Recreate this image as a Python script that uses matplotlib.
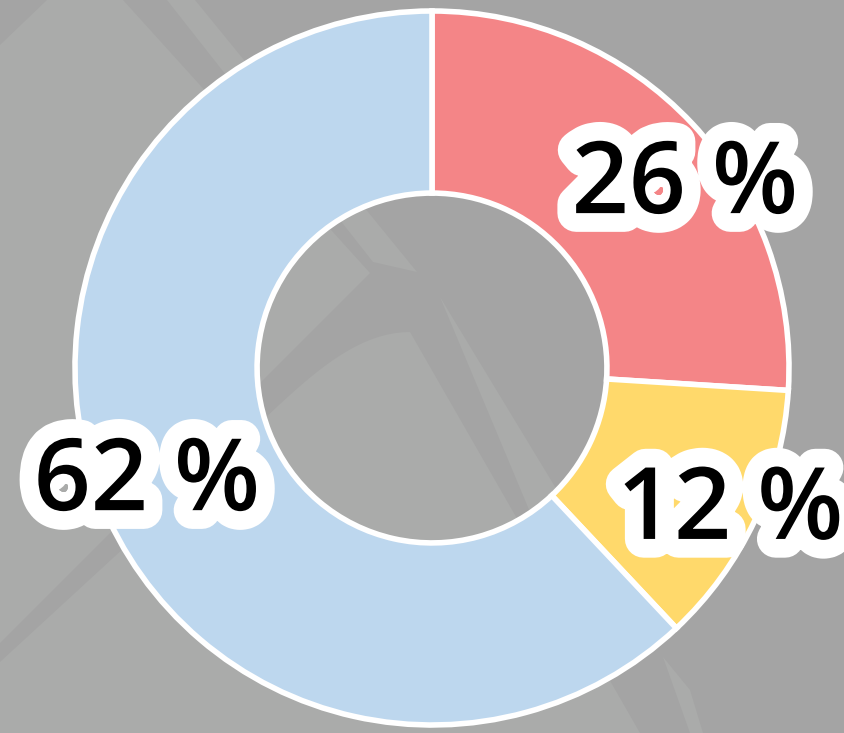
import numpy as np
import matplotlib
matplotlib.use("Agg")
import matplotlib.pyplot as plt
import matplotlib.patheffects as pe
from matplotlib.patches import Polygon

# -- Data ----------------------------------------------------------
categories = ["A", "B", "C"]
shares = [26, 12, 62]
pct_labels = ["26 %", "12 %", "62 %"]

# -- Colours -------------------------------------------------------
RED = "#F48587"
YELLOW = "#FFD96B"
BLUE = "#BDD7EE"
BG_DARK = "#A4A4A4"
BG_LIGHT = "#AAABAA"

W, H = 844, 733
CX, CY, R = 432, 368, 357  # donut centre / radius in pixels

fig = plt.figure(figsize=(W / 100, H / 100), dpi=100)
fig.patch.set_facecolor(BG_DARK)

# -- faint background shapes (pixel coords) --------------------------
bg = fig.add_axes([0, 0, 1, 1])
bg.set_xlim(0, W)
bg.set_ylim(H, 0)
bg.axis("off")
bg.set_facecolor(BG_DARK)
curve_t = np.linspace(0, 1, 20)
curve = [(263 + 147 * t, 420 - 88 * np.sin(t * np.pi / 2)) for t in curve_t]
shapes = [
    [(0, 45), (47, 0), (123, 0), (370, 273), (0, 643)],
    [(0, 662)] + curve + [(640, H), (0, H)],
    [(167, 0), (195, 0), (417, 272), (373, 262)],
    [(440, 297), (560, 495), (530, 512)],
    [(663, 657), (690, 690), (703, H), (690, H)],
]
for pts in shapes:
    bg.add_patch(Polygon(pts, closed=True, facecolor=BG_LIGHT, edgecolor="none"))

# -- donut -----------------------------------------------------------
ax = fig.add_axes([0, 0, 1, 1])
ax.set_facecolor("none")
wedges, _ = ax.pie(
    shares,
    colors=[RED, YELLOW, BLUE],
    startangle=90,
    counterclock=False,
    radius=1,
    wedgeprops=dict(width=0.51, edgecolor="white", linewidth=4),
)
ax.set_xlim(-CX / R, (W - CX) / R)
ax.set_ylim((CY - H) / R, CY / R)
ax.set_aspect("auto")
ax.axis("off")

# label placement relative to each wedge's mid angle
label_r = [0.886, 0.918, 0.853]
angle_shift = [-6.3, 0.7, -1.0]
for w, lab, r, shift in zip(wedges, pct_labels, label_r, angle_shift):
    mid = np.deg2rad((w.theta1 + w.theta2) / 2 + shift)
    ax.annotate(
        lab,
        xy=(r * np.cos(mid), r * np.sin(mid)),
        xytext=(0, -6.5),
        textcoords="offset points",
        ha="center",
        va="center",
        fontsize=72,
        fontweight=600,
        family=["Open Sans", "DejaVu Sans"],
        color="black",
        path_effects=[pe.withStroke(linewidth=27, foreground="white")],
    )

plt.savefig("out.png", dpi=100, facecolor=fig.get_facecolor())
